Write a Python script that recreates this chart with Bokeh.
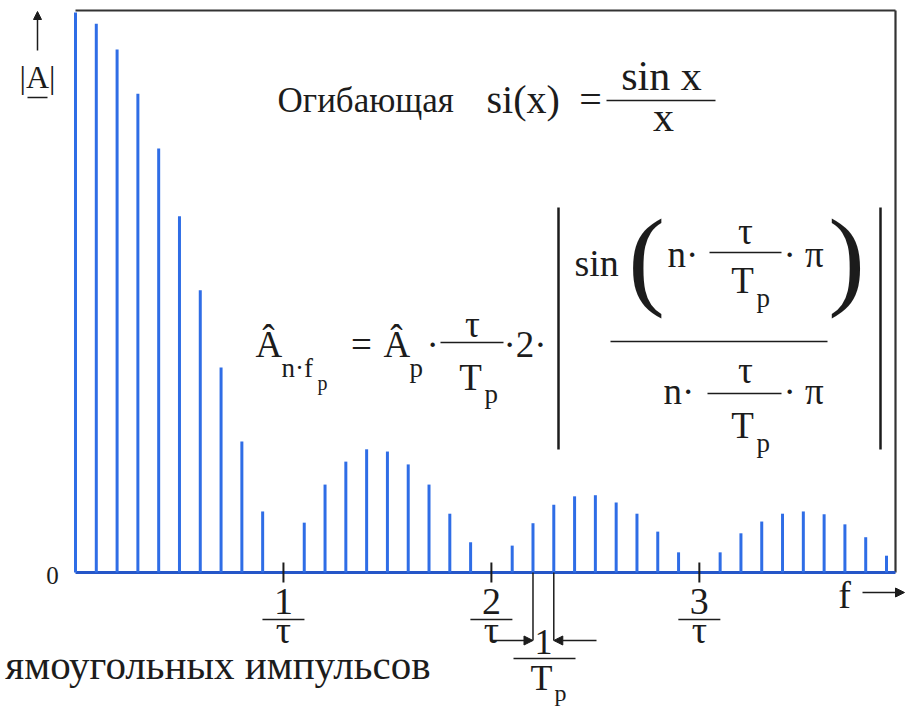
from bokeh.plotting import figure
from bokeh.models import Range1d, Arrow, NormalHead
from bokeh.core.properties import value
from bokeh.embed import file_html
from bokeh.resources import INLINE

# ---- data: harmonic number n (f = n * fp) and normalised amplitude |A|
harmonic_n = list(range(40))
amplitude = [1.000, 0.980, 0.934, 0.855, 0.757, 0.636, 0.504, 0.366, 0.234, 0.109,
             0.000, 0.089, 0.157, 0.198, 0.220, 0.216, 0.193, 0.157, 0.105, 0.054,
             0.000, 0.048, 0.088, 0.121, 0.136, 0.138, 0.125, 0.105, 0.073, 0.036,
             0.000, 0.036, 0.070, 0.091, 0.105, 0.109, 0.104, 0.086, 0.063, 0.030]
tick_n = [10, 20, 30]              # k / tau  expressed in harmonics of fp
tick_numerators = ["1", "2", "3"]
tick_denominator = "τ"
period_marks = [22, 23]            # two neighbouring lines spaced 1/Tp

SERIF = "'Liberation Serif', 'Times New Roman', serif"
INK = "#1c1c1c"
BLUE = "#2f6de6"
BASE_BLUE = "#2556c8"
MID = 0.3375   # middle of the font box above the alphabetic baseline (em)

# layout helpers (page pixel -> data)
X0, DX, Y0, DY = 75.0, 20.795, 572.0, 560.0
def X(px): return (px - X0) / DX
def Y(py): return (Y0 - py) / DY

W, H = 906, 711
p = figure(width=W, height=H, output_backend="svg", toolbar_location=None,
           x_range=Range1d(X(0), X(W)), y_range=Range1d(Y(H), Y(0)),
           x_axis_location=None, y_axis_location=None, min_border=0)
p.grid.visible = False
p.outline_line_color = None
p.background_fill_color = "white"
p.border_fill_color = "white"

def t(x, base, s, size, align="left"):
    """text whose alphabetic baseline sits at page y = base"""
    p.text(x=[X(x)], y=[Y(base - MID * size)], text=[s], text_font=value(SERIF),
           text_font_size=f"{size}px", text_align=align, text_baseline="middle",
           text_color=INK)

def seg(x0, y0, x1, y1, w=2, color=INK):
    p.segment(x0=[X(x0)], y0=[Y(y0)], x1=[X(x1)], y1=[Y(y1)], line_width=w, line_color=color)

def arrow(x0, y0, x1, y1, size=9):
    p.add_layout(Arrow(end=NormalHead(size=size, fill_color=INK, line_color=INK),
                       x_start=X(x0), y_start=Y(y0), x_end=X(x1), y_end=Y(y1),
                       line_width=1.5, line_color=INK))

# frame (top and right), baseline
seg(75, 10, 895, 10, 2.2, "#333333")
seg(895, 10, 895, 572, 2.2, "#333333")
p.segment(x0=[harmonic_n[0]], y0=[0], x1=[X(895)], y1=[0], line_width=3, line_color=BASE_BLUE)

# spectral lines
p.segment(x0=harmonic_n, y0=[0] * len(harmonic_n), x1=harmonic_n, y1=amplitude,
          line_width=3, line_color=BLUE)

# ticks at k/tau with fraction labels
TS = 38
half = 21.0 / DX
p.segment(x0=tick_n, y0=[Y(562)] * 3, x1=tick_n, y1=[Y(582)] * 3, line_width=2, line_color=INK)
p.text(x=tick_n, y=[Y(614 - MID * TS)] * 3, text=tick_numerators, text_font=value(SERIF),
       text_font_size=f"{TS}px", text_align="center", text_baseline="middle", text_color=INK)
p.segment(x0=[n - half for n in tick_n], y0=[Y(619)] * 3, x1=[n + half for n in tick_n],
          y1=[Y(619)] * 3, line_width=1.5, line_color=INK)
p.text(x=tick_n, y=[Y(642 - MID * TS)] * 3, text=[tick_denominator] * 3, text_font=value(SERIF),
       text_font_size=f"{TS}px", text_align="center", text_baseline="middle", text_color=INK)

# 1/Tp dimension
p.segment(x0=period_marks, y0=[0, 0], x1=period_marks, y1=[Y(640)] * 2,
          line_width=1.5, line_color=INK)
arrow(490, 640, X0 + period_marks[0] * DX, 640)
arrow(596, 640, X0 + period_marks[1] * DX, 640)
t(543, 654, "1", 36, "center")
seg(513, 658, 575, 658, 1.5)
t(541, 690, "T", 36, "center")
t(554, 701, "p", 24)

# f axis arrow
t(844, 607, "f", 38, "center")
arrow(862, 592, 904, 592)

# 0 label
t(52, 583, "0", 25, "center")

# |A| with arrow
arrow(37, 50, 37, 11, 8)
t(37, 87, "|A|", 32, "center")
seg(27, 97, 47, 97, 1.5)

# envelope text
t(277, 112, "Огибающая", 35)
t(486, 112, "si(x)", 40)
t(590, 112, "=", 40, "center")
t(661, 90, "sin x", 42, "center")
seg(606, 100, 715, 100, 1.5)
t(663, 131, "x", 42, "center")

# amplitude formula
FS = 37
t(255, 356, "Â", FS)
t(281, 377, "n·f", 27)
t(317, 389, "p", 20)
t(361, 356, "=", FS, "center")
t(383, 356, "Â", FS)
t(409, 377, "p", 27)
t(426, 356, "·", FS)
t(472, 336, "τ", FS, "center")
seg(440, 342, 503, 342, 1.5)
t(470, 389, "T", FS, "center")
t(484, 403, "p", 27)
t(503, 356, "·2·", FS)
seg(558, 207, 558, 449, 2.5)
seg(880, 207, 880, 449, 2.5)
t(574, 275, "sin", 38)
p.text(x=[X(646)], y=[Y(257)], text=["("], text_font=value(SERIF), text_font_size="110px",
       text_align="center", text_baseline="middle", text_color=INK)
t(667, 266, "n·", FS)
t(745, 243, "τ", FS, "center")
seg(709, 252, 781, 252, 1.5)
t(742, 292, "T", FS, "center")
t(756, 307, "p", 27)
t(783, 266, "· π", FS)
p.text(x=[X(846)], y=[Y(257)], text=[")"], text_font=value(SERIF), text_font_size="110px",
       text_align="center", text_baseline="middle", text_color=INK)
seg(610, 341, 827, 341, 1.5)
t(663, 403, "n·", FS)
t(745, 382, "τ", FS, "center")
seg(707, 393, 781, 393, 1.5)
t(742, 437, "T", FS, "center")
t(756, 452, "p", 27)
t(783, 403, "· π", FS)

# caption (cut at the left in the source)
t(430, 678, "ямоугольных импульсов", 41, "right")

open("out.html", "w").write(file_html(p, INLINE))
